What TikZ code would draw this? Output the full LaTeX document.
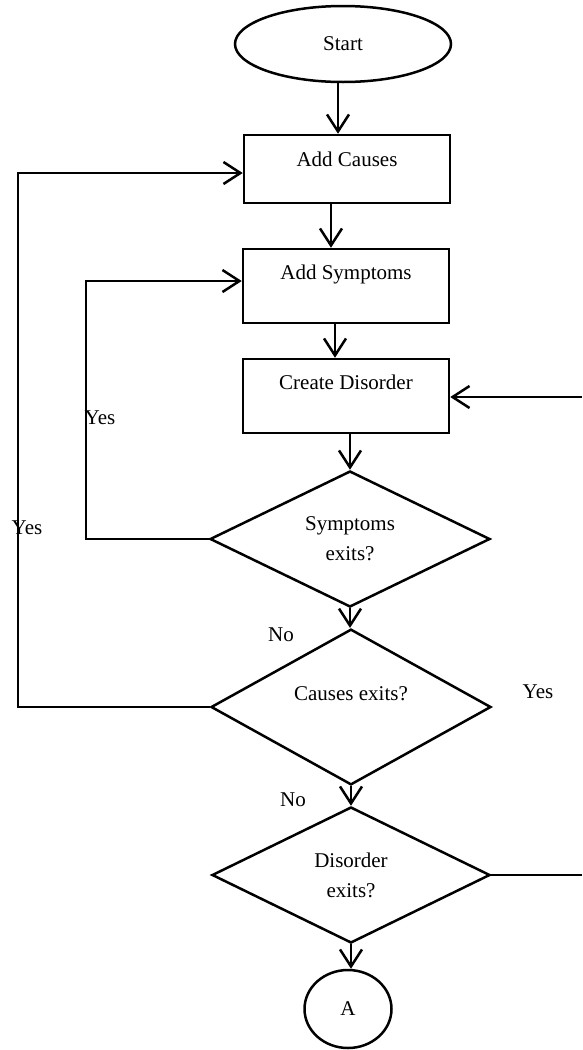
\documentclass[tikz,border=0pt]{standalone}
\usepackage{fontspec}
\setmainfont{Liberation Serif}
\usetikzlibrary{shapes.geometric,arrows.meta}
\begin{document}
\begin{tikzpicture}[x=1pt,y=-1pt,
  every node/.style={font=\fontsize{21}{30}\selectfont},
  flow/.style={line width=2.5pt},
  arr/.style={flow,-{Straight Barb[length=17pt,width=22pt]}},
  terminal/.style={draw,flow,ellipse,inner sep=0pt},
  stepbox/.style={draw,flow,rectangle,inner sep=2pt,minimum width=206pt},
  decision/.style={draw,flow,diamond,inner sep=0pt,align=center,minimum width=280pt,minimum height=136pt},
]
\useasboundingbox (0,0) rectangle (582,1050);

% process chain
\node[terminal,minimum width=216pt,minimum height=76pt] (start) at (343,44) {Start};
\node[stepbox,minimum height=68pt,text height=15pt,text depth=20pt] (causes) at (347,169) {Add Causes};
\node[stepbox,minimum height=74pt,text height=15pt,text depth=28pt] (symptoms) at (346,286) {Add Symptoms};
\node[stepbox,minimum height=74pt,text height=15pt,text depth=28pt] (disorder) at (346,396) {Create Disorder};
\node[decision] (qsym) at (350,539) {Symptoms\\exits?};
\node[decision,text height=14pt,text depth=28pt] (qcau) at (351,707) {Causes exits?};
\node[decision,minimum width=278pt] (qdis) at (351,875) {Disorder\\exits?};
\node[terminal,minimum width=87pt,minimum height=78pt] (conn) at (348,1009) {A};

% downward flow
\draw[arr] ([xshift=-5pt]start.south) -- ([xshift=-5pt]start.south |- causes.north);
\draw[arr] ([xshift=-16pt]causes.south) -- ([xshift=-16pt]causes.south |- symptoms.north);
\draw[arr] ([xshift=-11pt]symptoms.south) -- ([xshift=-11pt]symptoms.south |- disorder.north);
\draw[arr] (disorder.south -| qsym.north) -- (qsym.north);
\draw[arr] (qsym.south) -- (qsym.south |- qcau.north);
\draw[arr] (qcau.south) -- (qcau.south |- qdis.north);
\draw[arr] (qdis.south) -- (qdis.south |- conn.north);

% feedback loops on the left
\coordinate (outer) at (18,0);
\coordinate (inner) at (86,0);
\draw[arr] (qcau.west) -- (qcau.west -| outer) |- ([yshift=-4pt]causes.west);
\draw[arr] (qsym.west) -- (qsym.west -| inner) |- ([yshift=5pt]symptoms.west);

% return on the right
\coordinate (edgelow) at (582,875);
\coordinate (edgehigh) at (582,397);
\draw[flow] (qdis.east) -- (edgelow);
\draw[arr] (edgehigh) -- (disorder.east |- edgehigh);

% branch labels
\node (yesin) at (100,418) {Yes};
\node (yesout) at (27,528) {Yes};
\node (nocau) at (281,635) {No};
\node (nodis) at (293,800) {No};
\node (yesright) at (538,692) {Yes};
\end{tikzpicture}
\end{document}
